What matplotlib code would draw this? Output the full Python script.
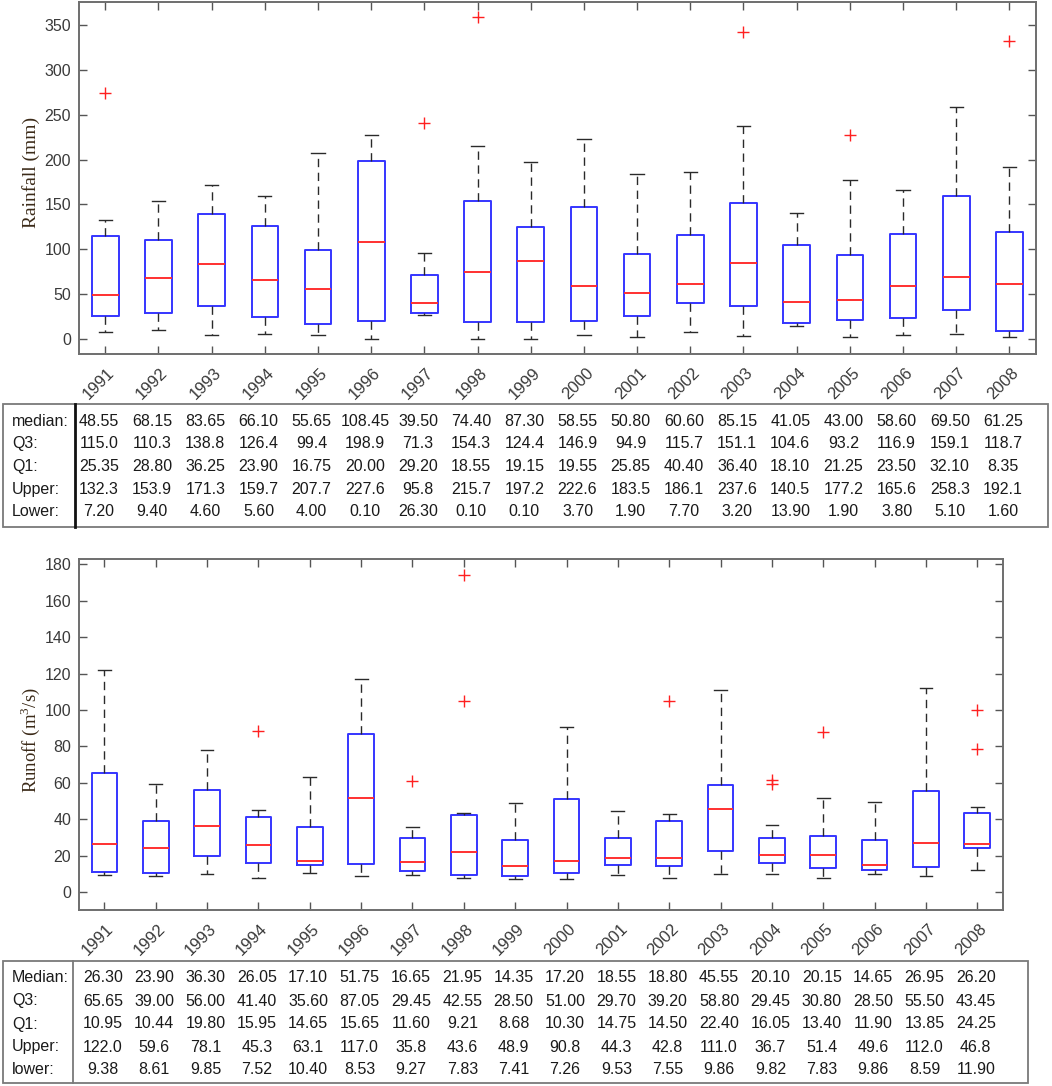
import numpy as np
import matplotlib
matplotlib.use('Agg')
import matplotlib.pyplot as plt
from matplotlib import transforms
from matplotlib.patches import Rectangle
from matplotlib.lines import Line2D

plt.rcParams['font.family'] = ['Liberation Sans', 'DejaVu Sans']

# 年份
years = [str(y) for y in range(1991, 2009)]

# 降雨量统计 (mm)
rain_median = [48.55, 68.15, 83.65, 66.10, 55.65, 108.45, 39.50, 74.40, 87.30,
               58.55, 50.80, 60.60, 85.15, 41.05, 43.00, 58.60, 69.50, 61.25]
rain_q3 = [115.0, 110.3, 138.8, 126.4, 99.4, 198.9, 71.3, 154.3, 124.4,
           146.9, 94.9, 115.7, 151.1, 104.6, 93.2, 116.9, 159.1, 118.7]
rain_q1 = [25.35, 28.80, 36.25, 23.90, 16.75, 20.00, 29.20, 18.55, 19.15,
           19.55, 25.85, 40.40, 36.40, 18.10, 21.25, 23.50, 32.10, 8.35]
rain_upper = [132.3, 153.9, 171.3, 159.7, 207.7, 227.6, 95.8, 215.7, 197.2,
              222.6, 183.5, 186.1, 237.6, 140.5, 177.2, 165.6, 258.3, 192.1]
rain_lower = [7.20, 9.40, 4.60, 5.60, 4.00, 0.10, 26.30, 0.10, 0.10,
              3.70, 1.90, 7.70, 3.20, 13.90, 1.90, 3.80, 5.10, 1.60]
rain_outliers = [[274], [], [], [], [], [], [241], [359], [],
                 [], [], [], [342], [], [228], [], [], [333]]

# 径流统计 (m3/s)
runoff_median = [26.30, 23.90, 36.30, 26.05, 17.10, 51.75, 16.65, 21.95, 14.35,
                 17.20, 18.55, 18.80, 45.55, 20.10, 20.15, 14.65, 26.95, 26.20]
runoff_q3 = [65.65, 39.00, 56.00, 41.40, 35.60, 87.05, 29.45, 42.55, 28.50,
             51.00, 29.70, 39.20, 58.80, 29.45, 30.80, 28.50, 55.50, 43.45]
runoff_q1 = [10.95, 10.44, 19.80, 15.95, 14.65, 15.65, 11.60, 9.21, 8.68,
             10.30, 14.75, 14.50, 22.40, 16.05, 13.40, 11.90, 13.85, 24.25]
runoff_upper = [122.0, 59.6, 78.1, 45.3, 63.1, 117.0, 35.8, 43.6, 48.9,
                90.8, 44.3, 42.8, 111.0, 36.7, 51.4, 49.6, 112.0, 46.8]
runoff_lower = [9.38, 8.61, 9.85, 7.52, 10.40, 8.53, 9.27, 7.83, 7.41,
                7.26, 9.53, 7.55, 9.86, 9.82, 7.83, 9.86, 8.59, 11.90]
runoff_outliers = [[], [], [], [88.5], [], [], [61.2], [174.2, 105.1], [],
                   [], [], [105.1], [], [61.5, 59.3], [88.1], [], [], [100.0, 78.4]]

W, H = 1052, 1086
fig = plt.figure(figsize=(W / 100, H / 100), dpi=100)
pos = np.arange(1, len(years) + 1)
tick_col = '#3a3a3a'


def px_rect(l, t, r, b):
    return [l / W, 1 - b / H, (r - l) / W, (b - t) / H]


def draw_boxes(ax, med, q3, q1, up, lo, outl, ylim, yticks):
    stats = [dict(med=m, q1=a, q3=b, whislo=l, whishi=u, fliers=f)
             for m, b, a, u, l, f in zip(med, q3, q1, up, lo, outl)]
    ax.bxp(stats, positions=pos, widths=0.5, capwidths=0.25,
           boxprops=dict(color='#3535ff', lw=1.4),
           medianprops=dict(color='#ff3030', lw=1.4),
           whiskerprops=dict(color='#2a2a2a', lw=1.0, linestyle=(0, (6, 4))),
           capprops=dict(color='#2a2a2a', lw=1.0),
           flierprops=dict(marker='+', markeredgecolor='#ff2020', markersize=9,
                           markeredgewidth=1.0, linestyle='none'))
    ax.set_xlim(0.5, 18.5)
    ax.set_ylim(*ylim)
    ax.set_yticks(yticks)
    ax.set_xticks(pos, labels=years)
    ax.tick_params(direction='in', top=True, right=True, length=6, width=1,
                   color='#555555', labelcolor=tick_col, labelsize=11.5)
    ax.tick_params(axis='y', pad=5.5)
    ax.tick_params(axis='x', pad=12, labelsize=12)
    off = transforms.ScaledTranslation(5 / 72, 0, fig.dpi_scale_trans)
    for lab in ax.get_xticklabels():
        lab.set_rotation(45)
        lab.set_ha('right')
        lab.set_va('center')
        lab.set_rotation_mode('anchor')
        lab.set_transform(lab.get_transform() + off)
    for s in ax.spines.values():
        s.set_color('#6e6e6e')
        s.set_linewidth(1.4)


def draw_table(ax, top, bottom, right, sep_x, sep_color, sep_lw,
               labels, rows, fmts, row_h, dx):
    fig.add_artist(Rectangle((3 / W, 1 - bottom / H), (right - 3) / W,
                             (bottom - top) / H, transform=fig.transFigure,
                             fill=False, ec='#7a7a7a', lw=1.3))
    fig.add_artist(Line2D([sep_x / W] * 2, [1 - top / H, 1 - bottom / H],
                          transform=fig.transFigure, color=sep_color, lw=sep_lw))
    trans = transforms.blended_transform_factory(ax.transData, fig.transFigure)
    for i, (lab, vals, fmt) in enumerate(zip(labels, rows, fmts)):
        yy = 1 - (top + 17 + i * row_h) / H
        fig.text(12 / W, yy, lab, ha='left', va='center', fontsize=11.5,
                 color='#1a1a1a')
        for p, v in zip(pos, vals):
            fig.text(p + dx, yy, fmt % v, transform=trans, ha='center',
                     va='center', fontsize=11.5, color='#1a1a1a')


# 上图：降雨量
ax1 = fig.add_axes(px_rect(78.7, 2, 1036, 354))
draw_boxes(ax1, rain_median, rain_q3, rain_q1, rain_upper, rain_lower,
           rain_outliers, (-17, 376), np.arange(0, 351, 50))
fig.text(31 / W, 1 - 172 / H, 'Rainfall (mm)', rotation=90, ha='center',
         va='center', family='Liberation Serif', fontsize=14, color='#3b2a18')
draw_table(ax1, 404, 527, 1048, 75, '#111111', 2.0,
           ['median:', 'Q3:', 'Q1:', 'Upper:', 'Lower:'],
           [rain_median, rain_q3, rain_q1, rain_upper, rain_lower],
           ['%.2f', '%.1f', '%.2f', '%.1f', '%.2f'], 22.7, -0.12)

# 下图：径流
ax2 = fig.add_axes(px_rect(78.7, 559, 1003, 910))
draw_boxes(ax2, runoff_median, runoff_q3, runoff_q1, runoff_upper, runoff_lower,
           runoff_outliers, (-9.9, 183), np.arange(0, 181, 20))
fig.text(30 / W, 1 - 740 / H, 'Runoff (m$^\\mathregular{3}$/s)', rotation=90,
         ha='center', va='center', family='Liberation Serif', fontsize=13.5,
         color='#3b2a18')
draw_table(ax2, 961, 1083, 1028, 73, '#7a7a7a', 1.3,
           ['Median:', 'Q3:', 'Q1:', 'Upper:', 'lower:'],
           [runoff_median, runoff_q3, runoff_q1, runoff_upper, runoff_lower],
           ['%.2f', '%.2f', '%.2f', '%.1f', '%.2f'], 23.0, -0.03)

fig.savefig('out.png', dpi=100)
